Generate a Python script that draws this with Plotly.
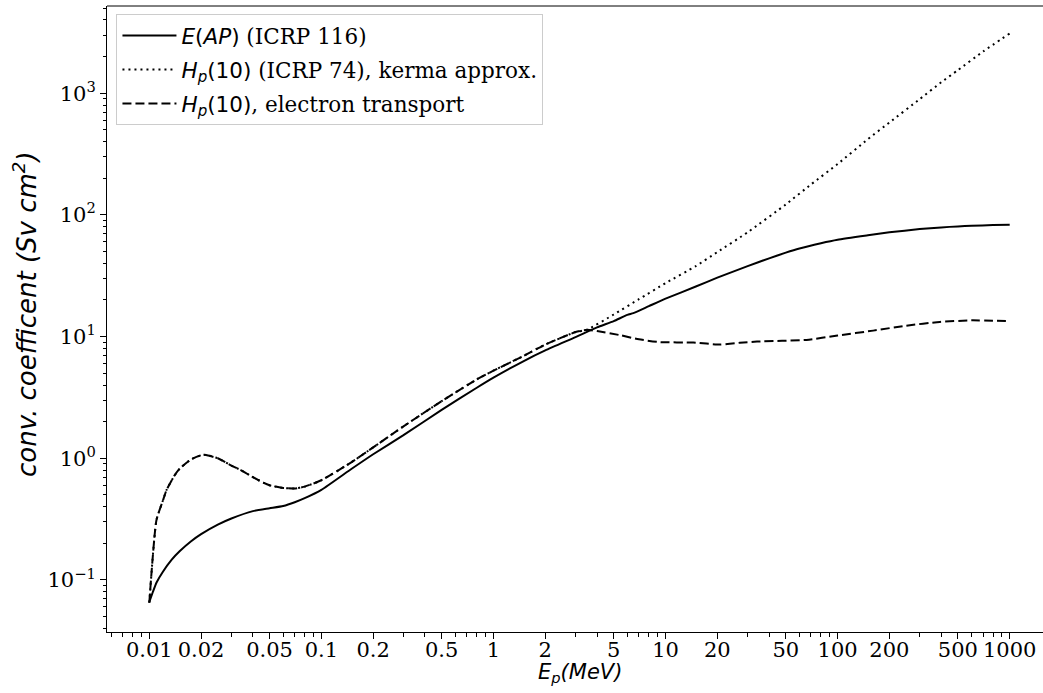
import plotly.graph_objects as go

# ---------------- data ----------------
# E(AP) effective dose conversion coefficient (ICRP 116)
e_ap = [0.01, 0.0105, 0.011, 0.012, 0.0135, 0.015, 0.0175, 0.02, 0.025, 0.03, 0.04, 0.05,
        0.06, 0.07, 0.08, 0.1, 0.15, 0.2, 0.3, 0.5, 0.8, 1, 1.5, 2, 3, 4, 5, 6, 6.5, 8, 10,
        15, 20, 30, 40, 50, 60, 80, 100, 150, 200, 300, 400, 500, 600, 800, 1000]
v_ap = [0.066, 0.08, 0.095, 0.117, 0.147, 0.172, 0.208, 0.238, 0.285, 0.32, 0.368, 0.388,
        0.405, 0.435, 0.47, 0.55, 0.82, 1.08, 1.55, 2.5, 3.8, 4.6, 6.3, 7.7, 9.9, 11.9, 13.4, 15.1, 15.6, 17.8, 20.5,
        25.8, 30.5, 38.0, 44.0, 49.0, 53.0, 58.5, 62.5, 68.0, 72.0, 76.5, 79.0, 80.5, 81.5, 82.5, 83.0]

# Hp(10) (ICRP 74), kerma approximation
e_kerma = [0.01, 0.011, 0.012, 0.0126, 0.014, 0.015, 0.0175, 0.0206, 0.025, 0.03,
           0.034, 0.04, 0.046, 0.05, 0.06, 0.07, 0.08, 0.1, 0.15, 0.2, 0.3, 0.5,
           0.8, 1, 1.5, 2, 3, 3.5, 5, 7, 10, 15, 20, 30, 50, 70, 100, 150,
           200, 300, 400, 500, 700, 1000]
v_kerma = [0.065, 0.31, 0.45, 0.55, 0.72, 0.82, 0.98, 1.07, 1.0, 0.87,
           0.80, 0.70, 0.63, 0.60, 0.57, 0.565, 0.585, 0.66, 0.93, 1.23, 1.83, 2.95,
           4.45, 5.25, 6.95, 8.6, 10.9, 11.4, 15.2, 20.3, 27.5, 38.0, 49.5, 72.0, 122.0, 178.0, 262.0, 420.0,
           575.0, 895.0, 1230.0, 1550.0, 2200.0, 3100.0]

# Hp(10), electron transport
e_etr = [0.01, 0.011, 0.012, 0.0126, 0.014, 0.015, 0.0175, 0.0206, 0.025, 0.03,
         0.034, 0.04, 0.046, 0.05, 0.06, 0.07, 0.08, 0.1, 0.15, 0.2, 0.3, 0.5,
         0.8, 1, 1.5, 2, 3, 3.5, 4, 5.4, 7, 9.3, 14.5, 20.7, 27, 34, 66, 100,
         161, 250, 393, 600, 1000]
v_etr = [0.065, 0.31, 0.45, 0.55, 0.72, 0.82, 0.98, 1.07, 1.0, 0.87,
         0.80, 0.70, 0.63, 0.60, 0.57, 0.565, 0.585, 0.66, 0.93, 1.23, 1.83, 2.95,
         4.45, 5.25, 6.95, 8.6, 10.9, 11.4, 11.1, 10.3, 9.5, 9.0, 8.95, 8.6, 8.9, 9.1, 9.4, 10.2,
         11.2, 12.3, 13.2, 13.6, 13.4]

labels = [
    '<span style="font-family:DejaVu Sans"><i>E</i>(<i>AP</i>)</span> (ICRP 116)',
    '<span style="font-family:DejaVu Sans"><i>H</i><sub><i>p</i></sub>(10)</span> (ICRP 74), kerma approx.',
    '<span style="font-family:DejaVu Sans"><i>H</i><sub><i>p</i></sub>(10)</span>, electron transport',
]

x_tickvals = [0.01, 0.02, 0.05, 0.1, 0.2, 0.5, 1, 2, 5, 10, 20, 50, 100, 200, 500, 1000]
x_ticktext = ["0.01", "0.02", "0.05", "0.1", "0.2", "0.5", "1", "2", "5", "10", "20",
              "50", "100", "200", "500", "1000"]
y_tickvals = [0.1, 1, 10, 100, 1000]
y_ticktext = ["10<sup>\u22121</sup>", "10<sup>0</sup>", "10<sup>1</sup>", "10<sup>2</sup>", "10<sup>3</sup>"]

x_title = "<i>E<sub>p</sub>(MeV)</i>"
y_title = "<i>conv. coefficent (Sv cm<sup>2</sup>)</i>"

# minor tick positions (axis furniture)
x_minor = [m * 10.0 ** d for d in range(-3, 4) for m in range(2, 10)
           if round(m * 10.0 ** d, 6) not in [round(v, 6) for v in x_tickvals]]
y_minor = [m * 10.0 ** d for d in range(-2, 4) for m in range(2, 10)]

# ---------------- figure ----------------
fig = go.Figure()
styles = [dict(color="black", width=2, dash="solid"),
          dict(color="black", width=2, dash="2px,4px"),
          dict(color="black", width=2, dash="9px,4px")]
series = [(e_ap, v_ap), (e_kerma, v_kerma), (e_etr, v_etr)]
for i, ((xs, ys), st, name) in enumerate(zip(series, styles, labels)):
    fig.add_trace(go.Scatter(x=xs, y=ys, mode="lines", name=name, line=st,
                             line_shape="spline", line_smoothing=0.5,
                             legendgroup=f"g{i}", hoverinfo="skip"))

serif = "DejaVu Serif"
sans = "DejaVu Sans"

fig.update_layout(
    width=1043, height=693,
    margin=dict(l=107, r=0, t=6, b=61, pad=0),
    paper_bgcolor="white", plot_bgcolor="white",
    showlegend=True,
    legend=dict(x=0.0101, y=0.987, xanchor="left", yanchor="top",
                bgcolor="rgba(255,255,255,0.8)", bordercolor="#cccccc", borderwidth=1,
                font=dict(family=serif, size=21.5, color="black"),
                itemwidth=54,
                traceorder="grouped", tracegroupgap=3),
    xaxis=dict(type="log", range=[-2.2458, 3.1935], autorange=False,
               showgrid=False, zeroline=False, automargin=False,
               showline=True, linecolor="black", linewidth=1,
               ticks="outside", ticklen=6, tickwidth=1, tickcolor="black",
               ticklabelstandoff=-7,
               tickmode="array", tickvals=x_tickvals, ticktext=x_ticktext,
               tickfont=dict(family=serif, size=21, color="black"),
               minor=dict(tickmode="array", tickvals=x_minor, ticks="outside",
                          ticklen=3.5, tickwidth=0.8, tickcolor="black", showgrid=False)),
    yaxis=dict(type="log", range=[-1.4275, 3.717], autorange=False,
               showgrid=False, zeroline=False, automargin=False,
               showline=True, linecolor="black", linewidth=1,
               ticks="outside", ticklen=6, tickwidth=1, tickcolor="black",
               tickmode="array", tickvals=y_tickvals, ticktext=y_ticktext,
               tickfont=dict(family=serif, size=21, color="black"),
               minor=dict(tickmode="array", tickvals=y_minor, ticks="outside",
                          ticklen=3.5, tickwidth=0.8, tickcolor="black", showgrid=False)),
)

# top spine
fig.add_shape(type="line", xref="paper", yref="paper", x0=0, x1=1, y0=1, y1=1,
              line=dict(color="black", width=1))

# axis titles (centered on the original, wider axes box)
fig.add_annotation(text=x_title, xref="paper", yref="paper", x=0.5053, y=-0.066,
                   xanchor="center", yanchor="middle", showarrow=False,
                   font=dict(family=sans, size=21, color="black"))
fig.add_annotation(text=y_title, xref="paper", yref="paper", x=-0.0876, y=0.508,
                   xanchor="center", yanchor="middle", showarrow=False, textangle=-90,
                   font=dict(family=sans, size=26, color="black"))

fig.write_html("out.html", config={"displayModeBar": False},
               post_script="document.body.style.margin='0px';")
